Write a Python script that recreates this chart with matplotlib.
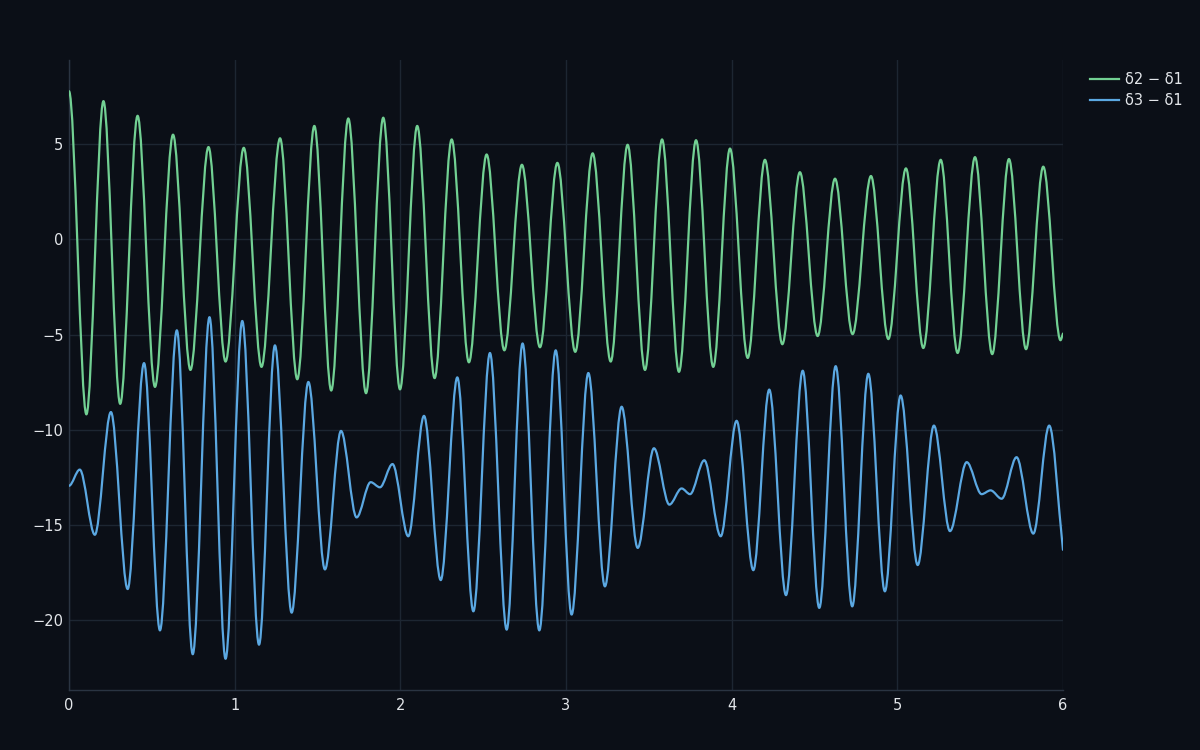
import numpy as np
import matplotlib
matplotlib.use("Agg")
import matplotlib.pyplot as plt
from matplotlib.path import Path
from matplotlib.patches import PathPatch
from matplotlib.lines import Line2D

# turning points (time, value)
green_t = [0.000, 0.105, 0.208, 0.309, 0.414, 0.519, 0.628, 0.733, 0.842, 0.945,
           1.055, 1.162, 1.274, 1.378, 1.481, 1.583, 1.686, 1.793, 1.897, 1.998,
           2.102, 2.207, 2.310, 2.414, 2.521, 2.628, 2.734, 2.843, 2.948, 3.056,
           3.161, 3.270, 3.372, 3.477, 3.580, 3.682, 3.785, 3.889, 3.990, 4.097,
           4.201, 4.306, 4.412, 4.519, 4.624, 4.730, 4.841, 4.946, 5.052, 5.157,
           5.262, 5.364, 5.469, 5.573, 5.674, 5.777, 5.881, 5.985, 6.000]
green_y = [7.77, -9.19, 7.25, -8.64, 6.48, -7.75, 5.49, -6.86, 4.84, -6.42,
           4.80, -6.70, 5.30, -7.35, 5.95, -7.94, 6.34, -8.08, 6.38, -7.88,
           5.95, -7.29, 5.24, -6.46, 4.45, -5.83, 3.91, -5.67, 4.01, -5.91,
           4.51, -6.42, 4.96, -6.86, 5.24, -6.96, 5.20, -6.70, 4.76, -6.23,
           4.17, -5.51, 3.52, -5.08, 3.18, -4.98, 3.32, -5.24, 3.72, -5.71,
           4.17, -5.97, 4.31, -6.03, 4.21, -5.77, 3.81, -5.30, -4.95]

blue_t = [0.000, 0.065, 0.156, 0.253, 0.354, 0.453, 0.549, 0.651, 0.747, 0.848,
          0.945, 1.046, 1.147, 1.243, 1.344, 1.445, 1.545, 1.642, 1.736, 1.821,
          1.877, 1.953, 2.048, 2.143, 2.244, 2.344, 2.441, 2.541, 2.642, 2.738,
          2.839, 2.938, 3.034, 3.135, 3.235, 3.336, 3.433, 3.531, 3.624, 3.698,
          3.749, 3.835, 3.934, 4.030, 4.131, 4.227, 4.328, 4.429, 4.529, 4.628,
          4.728, 4.825, 4.925, 5.020, 5.123, 5.221, 5.318, 5.419, 5.509, 5.563,
          5.630, 5.720, 5.821, 5.917, 6.000]
blue_y = [-12.94, -12.09, -15.51, -9.07, -18.36, -6.50, -20.53, -4.78, -21.78, -4.09,
          -22.02, -4.29, -21.28, -5.57, -19.60, -7.49, -17.33, -10.06, -14.60, -12.75,
          -13.02, -11.80, -15.59, -9.27, -17.89, -7.25, -19.53, -5.97, -20.49, -5.47,
          -20.53, -5.83, -19.70, -7.02, -18.22, -8.79, -16.20, -10.97, -13.93, -13.08,
          -13.38, -11.60, -15.59, -9.53, -17.37, -7.89, -18.68, -6.90, -19.35, -6.66,
          -19.27, -7.06, -18.48, -8.20, -17.10, -9.78, -15.32, -11.70, -13.38, -13.18,
          -13.62, -11.44, -15.45, -9.78, -16.30]

labels = ["δ2 − δ1", "δ3 − δ1"]
colors = ["#72d093", "#5ba8e2"]

BG = "#0b0f17"
GRID = "#1d2632"
TEXT = "#e3e6ea"


def smooth_path(t, y):
    # cubic bezier through the turning points, flat tangent at each one
    slopes = np.zeros(len(t))
    slopes[-1] = (y[-1] - y[-2]) / (t[-1] - t[-2])
    verts = [(t[0], y[0])]
    codes = [Path.MOVETO]
    for i in range(len(t) - 1):
        dx = t[i + 1] - t[i]
        verts.append((t[i] + dx / 3, y[i] + slopes[i] * dx / 3))
        verts.append((t[i + 1] - dx / 3, y[i + 1] - slopes[i + 1] * dx / 3))
        verts.append((t[i + 1], y[i + 1]))
        codes += [Path.CURVE4] * 3
    return Path(verts, codes)


plt.rcParams['font.family'] = ['DejaVu Sans']

fig = plt.figure(figsize=(12, 7.5), dpi=100, facecolor=BG)
ax = fig.add_axes([0.0575, 0.08, 0.8283, 0.84], facecolor=BG)

for t, y, c in [(green_t, green_y, colors[0]), (blue_t, blue_y, colors[1])]:
    ax.add_patch(PathPatch(smooth_path(t, y), facecolor="none", edgecolor=c,
                           lw=1.6, capstyle="round", joinstyle="round", zorder=3))

ymin = min(min(green_y), min(blue_y))
ymax = max(max(green_y), max(blue_y))
pad = 0.055 * (ymax - ymin)
ax.set_xlim(0, 6)
ax.set_ylim(ymin - pad, ymax + pad)

ax.set_xticks(range(0, 7))
ax.set_yticks([-20, -15, -10, -5, 0, 5])
ax.grid(True, color=GRID, lw=1)
ax.set_axisbelow(True)
ax.tick_params(length=0, colors=TEXT, labelsize=10.5)
ax.tick_params(axis="y", pad=4)
ax.tick_params(axis="x", pad=6)
for side in ["top", "right"]:
    ax.spines[side].set_visible(False)
for side in ["bottom", "left"]:
    ax.spines[side].set_color("#2a3442")
    ax.spines[side].set_linewidth(1)

handles = [Line2D([], [], color=c, lw=1.6) for c in colors]
leg = fig.legend(handles, labels, loc="upper left", bbox_to_anchor=(0.897, 0.922),
                 frameon=False, fontsize=10.5, handlelength=2.0, handletextpad=0.4,
                 labelspacing=0.45, labelcolor=TEXT)

fig.savefig("out.png", dpi=100, facecolor=BG)
